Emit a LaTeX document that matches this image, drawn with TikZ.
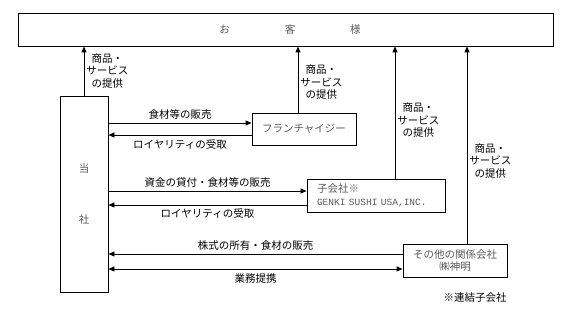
\documentclass[tikz,border=0pt]{standalone}
\usepackage{fontspec}
\setmainfont{Noto Sans CJK JP}
\newfontfamily\latinmono{Liberation Mono}
\usetikzlibrary{arrows.meta,calc}

\begin{document}
\begin{tikzpicture}[x=1pt,y=-1pt,line width=0.9pt,
  >={Triangle[length=6pt,width=5pt]},
  box/.style={draw,rectangle,inner sep=0pt,text=black!65,
    font=\fontsize{10.5}{12.5}\selectfont},
  lab/.style={font=\fontsize{10.5}{12.5}\selectfont,align=center,inner sep=0pt}]
\useasboundingbox (0,0) rectangle (566,328);
% boxes
\node[box,minimum width=535pt,minimum height=33pt] (okyaku) at (285.5,29.5)
  {\hspace{9pt}お\hspace{55pt}客\hspace{55pt}様};
\node[box,minimum width=48pt,minimum height=196pt,align=center] (tosha) at (84,194)
  {当\\[38pt]社};
\node[box,minimum width=104pt,minimum height=32pt] (fc) at (304,129) {フランチャイジー};
\node[box,minimum height=33pt,text width=118pt,inner xsep=10pt,align=left] (kogaisha) at (376,195.5)
  {子会社※\\[1pt]{\latinmono\fontsize{9.5}{12}\selectfont GENKI SUSHI USA,INC.}};
\node[box,minimum width=104pt,minimum height=33pt,align=center] (sono) at (455,260.5)
  {その他の関係会社\\㈱神明};
\node[lab,anchor=east] (note) at (507,298) {※連結子会社};
% up to the customers
\foreach \src/\dx/\p/\i in {tosha/0/0.5/1,fc/-6/0.46/2,kogaisha/19/0.44/3,sono/12/0.42/4}{
  \draw[->] ([xshift=\dx pt]\src.north) -- ([xshift=\dx pt]\src.north |- okyaku.south)
    node[lab,pos=\p,right=2pt] (sv\i) {商品・\\サービス\\の提供};
}
% between the company and the others
\draw[->] ([yshift=6pt]fc.west -| tosha.east) -- ([yshift=6pt]fc.west)
  node[lab,midway,above=3pt] (t1) {食材等の販売};
\draw[->] ([yshift=-6pt]fc.west) -- ([yshift=-6pt]fc.west -| tosha.east)
  node[lab,midway,below=4pt] (t2) {ロイヤリティの受取};
\draw[->] ([yshift=4.5pt]kogaisha.west -| tosha.east) -- ([yshift=4.5pt]kogaisha.west)
  node[lab,midway,above=3pt] (t3) {資金の貸付・食材等の販売};
\draw[->] ([yshift=-9.5pt]kogaisha.west) -- ([yshift=-9.5pt]kogaisha.west -| tosha.east)
  node[lab,midway,below=3pt] (t4) {ロイヤリティの受取};
\draw[->] ([yshift=6.5pt]sono.west) -- ([yshift=6.5pt]sono.west -| tosha.east)
  node[lab,midway,above=3pt] (t5) {株式の所有・食材の販売};
\draw[<->] ([yshift=-8.5pt]sono.west) -- ([yshift=-8.5pt]sono.west -| tosha.east)
  node[lab,midway,below=4pt] (t6) {業務提携};
\end{tikzpicture}
\end{document}
